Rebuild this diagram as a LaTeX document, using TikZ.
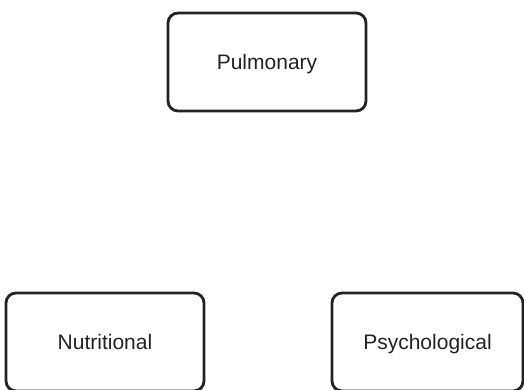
\documentclass[tikz,border=0pt]{standalone}
\usepackage{fontspec}
\setmainfont{Liberation Sans}
\definecolor{ink}{HTML}{222222}
\begin{document}
\begin{tikzpicture}[x=1pt,y=1pt,
  area/.style={draw=ink, line width=2.8pt, rounded corners=10pt,
    minimum height=98pt, text=ink, font=\fontsize{21}{24}\selectfont,
    inner sep=0pt, text height=15pt, text depth=0pt}]
\useasboundingbox (0,0) rectangle (524,389);
\node[area, minimum width=198pt] (pulm) at (267,327) {Pulmonary};
\node[area, minimum width=198pt] (nutr) at (105,47) {Nutritional};
\node[area, minimum width=191pt] (psych) at (427.5,47) {Psychological};
\end{tikzpicture}
\end{document}
